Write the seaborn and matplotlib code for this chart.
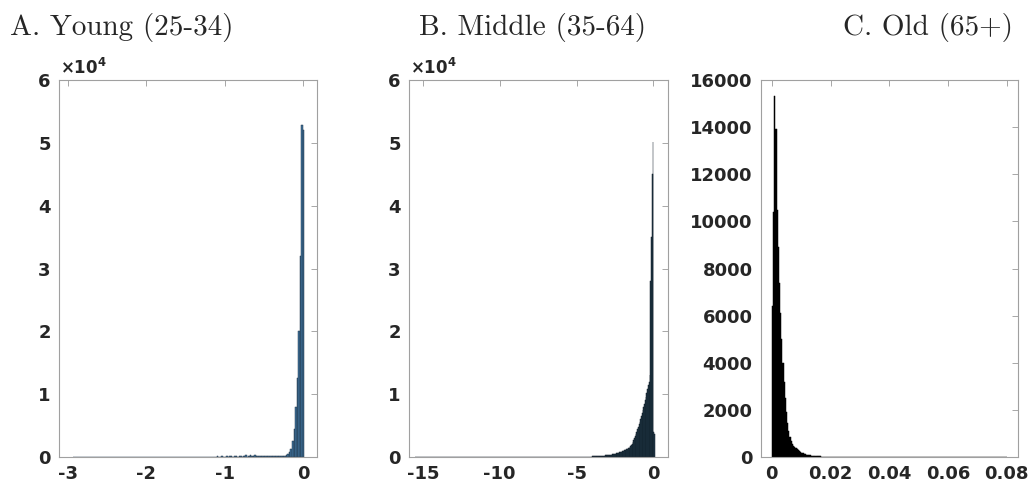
import numpy as np
import pandas as pd
import matplotlib
matplotlib.use("Agg")
import matplotlib.pyplot as plt
import seaborn as sns
from matplotlib.ticker import FuncFormatter

# ---------- Data (bin counts) ----------
# A. Young: bins 0.02 wide, counted from -1.16 up to 0.02
young_width = 0.02
young_first = -1.16
young_counts = [40, 0, 0, 80, 0, 0, 120, 0, 60, 150,
                0, 80, 180, 0, 90, 200, 0, 100, 220, 0,
                120, 250, 60, 130, 260, 80, 150, 240, 90, 160,
                230, 100, 170, 200, 110, 180, 170, 120, 160, 150,
                130, 140, 130,
                120, 130, 150, 180, 250, 400, 750, 1300, 2500, 4500,
                8000, 12500, 20000, 32000, 52900, 52000]
young_range = (-2.94, 0.02)

# B. Middle: bins 0.05 wide, counted from -4.0 up to 0.1
middle_width = 0.05
middle_first = -4.0
middle_counts = [90, 95, 100, 105, 110, 115, 120, 130, 140, 150,
                 160, 170, 180, 190, 200, 210, 225, 240, 255, 270,
                 290, 310, 330, 350, 370, 395, 420, 450, 480, 510,
                 540, 570, 600, 640, 680, 720, 760, 800, 850, 900,
                 950, 1000, 1060, 1120, 1180, 1250, 1320, 1400, 1500, 1600,
                 1750, 1900, 2100, 2350, 2650, 3000, 3350, 3700, 4050, 4400,
                 4800, 5200, 5600, 6000, 6500, 7000, 7500, 8000, 8500, 9000,
                 9600, 10200, 10800, 11400, 12000, 13000, 28000, 35000, 45000, 50200,
                 3900, 3700]
middle_range = (-15.5, 0.1)

# C. Old: bins 0.0004 wide, counted from 0 up
old_width = 0.0004
old_first = 0.0
old_counts = [6400, 10400, 15300, 13900, 10500, 8900, 7400, 6100, 5000, 4000,
              3200, 2500, 1900, 1450, 1100, 850, 680, 560, 480, 420,
              370, 320, 280, 240, 210, 185, 160, 140, 122, 106,
              92, 80, 70, 62, 55, 48, 43, 38, 34, 30,
              27, 24, 21, 19, 17, 15, 13, 12, 11, 10, 9]
old_range = (0.0, 0.08)

titles = ["A. Young (25-34)", "B. Middle (35-64)", "C. Old (65+)"]


def to_frame(first, width, counts):
    centers = first + width * (np.arange(len(counts)) + 0.5)
    return pd.DataFrame({"x": centers, "n": counts})


def edges_for(rng, first, width):
    k_lo = int(round((first - rng[0]) / width))
    k_hi = int(round((rng[1] - first) / width))
    return list(first + width * np.arange(-k_lo, k_hi + 1))


sns.set_style("white")
plt.rcParams["font.family"] = ["DejaVu Sans"]
plt.rcParams["font.weight"] = "bold"
plt.rcParams["axes.unicode_minus"] = False

fig = plt.figure(figsize=(10.35, 4.82), dpi=100)
W, H = 1035, 482
boxes = [(59, 317), (409, 668), (761, 1018)]
top, bottom = 80, 457
axes = [fig.add_axes([l / W, 1 - bottom / H, (r - l) / W, (bottom - top) / H]) for l, r in boxes]

panels = [
    (young_first, young_width, young_counts, young_range, "#3f7099", "#22384b"),
    (middle_first, middle_width, middle_counts, middle_range, "#2a4458", "#0f1c26"),
    (old_first, old_width, old_counts, old_range, "#000000", "#000000"),
]

for ax, (first, width, counts, rng, fc, ec) in zip(axes, panels):
    df = to_frame(first, width, counts)
    sns.histplot(data=df, x="x", weights="n", bins=edges_for(rng, first, width),
                 ax=ax, color=fc, edgecolor=ec, linewidth=0.35, alpha=1.0)
    ax.set_xlabel("")
    ax.set_ylabel("")
    for s in ax.spines.values():
        s.set_color("#a0a0a0")
        s.set_linewidth(0.8)
    ax.tick_params(direction="in", length=4, width=0.6, color="#999999",
                   labelcolor="#262626", labelsize=13, top=True, right=True, pad=6)

# axis limits and ticks
axes[0].set_xlim(-3.115, 0.18)
axes[0].set_xticks([-3, -2, -1, 0])
axes[1].set_xlim(-15.9, 0.95)
axes[1].set_xticks([-15, -10, -5, 0])
axes[2].set_xlim(-0.0037, 0.0838)
axes[2].set_xticks([0, 0.02, 0.04, 0.06, 0.08])
axes[2].xaxis.set_major_formatter(FuncFormatter(lambda v, p: "0" if abs(v) < 1e-12 else f"{v:.2f}"))

for ax in axes[:2]:
    ax.set_ylim(0, 60000)
    ax.set_yticks(np.arange(0, 60001, 10000))
    ax.yaxis.set_major_formatter(FuncFormatter(lambda v, p: f"{v / 1e4:.0f}"))
    ax.text(0.005, 1.004, r"$\times\mathbf{10}^{\mathbf{4}}$", transform=ax.transAxes,
            ha="left", va="bottom", fontsize=12, color="#262626")
axes[2].set_ylim(0, 16000)
axes[2].set_yticks(np.arange(0, 16001, 2000))

# panel titles (LaTeX-like serif)
fig.text(10 / W, 1 - 35 / H, titles[0], family="cmr10", fontweight="normal", fontsize=21, ha="left", va="baseline")
fig.text(419 / W, 1 - 35 / H, titles[1], family="cmr10", fontweight="normal", fontsize=21, ha="left", va="baseline")
fig.text(1013 / W, 1 - 35 / H, titles[2], family="cmr10", fontweight="normal", fontsize=21, ha="right", va="baseline")

fig.savefig("out.png", dpi=100)
